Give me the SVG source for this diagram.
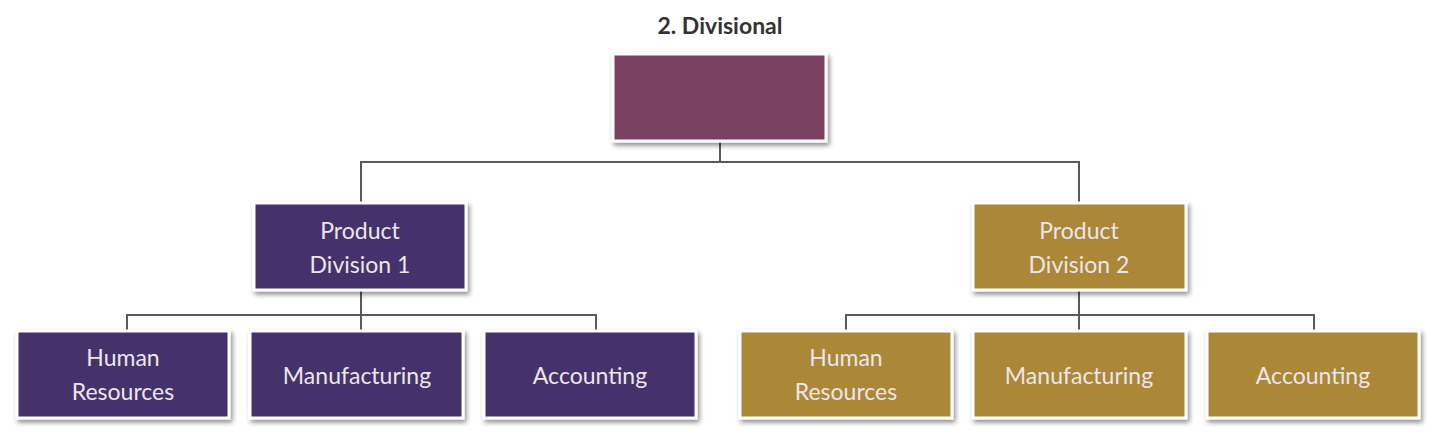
<svg xmlns="http://www.w3.org/2000/svg" width="1440" height="432" viewBox="0 0 1440 432">
<defs>
<filter id="sh" x="-10%" y="-10%" width="125%" height="135%">
<feGaussianBlur in="SourceAlpha" stdDeviation="2.5"/>
<feOffset dx="2" dy="3" result="b"/>
<feComponentTransfer><feFuncA type="linear" slope="0.45"/></feComponentTransfer>
<feMerge><feMergeNode/><feMergeNode in="SourceGraphic"/></feMerge>
</filter>
</defs>
<style>
.box{stroke:#ffffff;stroke-width:3;filter:url(#sh)}
.top{fill:#7a4361}
.pur{fill:#45306a}
.gold{fill:#ab8739}
.lbl{font-family:Lato,"Open Sans","Liberation Sans",sans-serif;font-size:23px;fill:#ebe6ea;text-anchor:middle}
.conn{stroke:#5a5a5a;stroke-width:2;fill:none}
.title{font-family:Lato,"Open Sans","Liberation Sans",sans-serif;font-size:23px;font-weight:bold;fill:#333333;text-anchor:middle}
</style>
<rect width="1440" height="432" fill="#ffffff"/>
<text class="title" x="720" y="34">2. Divisional</text>
<g id="connectors">
<path class="conn" d="M720 142 V162 M361 203 V162 H1079 V203"/>
<path class="conn" d="M361 291 V331 M127 331 V315 H596 V331"/>
<path class="conn" d="M1079 291 V331 M846 331 V315 H1314 V331"/>
</g>
<g id="top"><rect class="box top" x="613" y="54" width="213" height="87"/></g>
<g id="pd1"><rect class="box pur" x="254" y="203" width="212" height="87"/>
<text class="lbl" x="360" y="239">Product</text><text class="lbl" x="360" y="273">Division 1</text></g>
<g id="pd2"><rect class="box gold" x="973" y="203" width="213" height="87"/>
<text class="lbl" x="1079" y="239">Product</text><text class="lbl" x="1079" y="273">Division 2</text></g>
<g id="hr1"><rect class="box pur" x="17" y="331" width="212" height="87"/>
<text class="lbl" x="123" y="366">Human</text><text class="lbl" x="123" y="400">Resources</text></g>
<g id="mf1"><rect class="box pur" x="250" y="331" width="213" height="87"/>
<text class="lbl" x="357" y="384">Manufacturing</text></g>
<g id="ac1"><rect class="box pur" x="484" y="331" width="212" height="87"/>
<text class="lbl" x="590" y="384">Accounting</text></g>
<g id="hr2"><rect class="box gold" x="740" y="331" width="212" height="87"/>
<text class="lbl" x="846" y="366">Human</text><text class="lbl" x="846" y="400">Resources</text></g>
<g id="mf2"><rect class="box gold" x="973" y="331" width="213" height="87"/>
<text class="lbl" x="1079" y="384">Manufacturing</text></g>
<g id="ac2"><rect class="box gold" x="1207" y="331" width="212" height="87"/>
<text class="lbl" x="1313" y="384">Accounting</text></g>
</svg>
